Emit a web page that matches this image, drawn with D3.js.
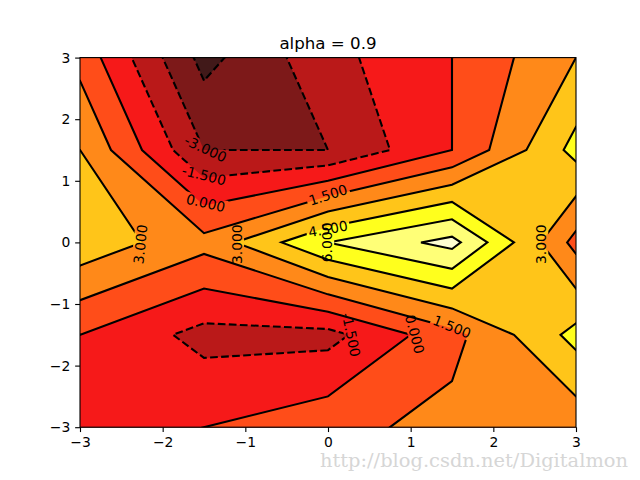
<!DOCTYPE html>
<html>
<head>
<meta charset="utf-8">
<script src="https://cdn.jsdelivr.net/npm/d3@7"></script>
<style>
  body { margin: 0; background: #fff; }
  svg { display: block; }
</style>
</head>
<body>
<div id="chart"></div>
<script>
// Sample grid (rows run top to bottom, i.e. y = 3 first)
const xGrid = [-3, -1.5, 0, 1.5, 3];
const yGrid = [3, 1.5, 0, -1.5, -3];
const zRows = [
    [ 1, -5, -2, 0, 3],
    [ 3, -3, -3, 0, 5],
    [ 4,  2,  6, 8, 1],
    [ 0, -2, -2, 1, 5],
    [-1,  0,  1, 2, 2]
];
const fillLevels = [-6, -4.5, -3, -1.5, 0, 1.5, 3, 4.5, 6, 7.5, 9];
const lineLevels = [-4.5, -3, -1.5, 0, 1.5, 3, 4.5, 6, 7.5];
const xTicks = [-3, -2, -1, 0, 1, 2, 3];
const yTicks = [-3, -2, -1, 0, 1, 2, 3];
const titleText = "alpha = 0.9";
const fillAlpha = 0.9;

// Where clabel put its inline labels (data coords, svg rotation)
const labelSpots = [
    { level: -3,   x: -1.48, y: 1.52,  rot: 25 },
    { level: -1.5, x: -1.50, y: 1.09,  rot: 14 },
    { level: 0,    x: -1.48, y: 0.64,  rot: 13 },
    { level: 1.5,  x: 0.00,  y: 0.77,  rot: -18 },
    { level: 4.5,  x: 0.00,  y: 0.22,  rot: -10 },
    { level: 6,    x: -0.01, y: 0.00,  rot: -90 },
    { level: 3,    x: -2.27, y: -0.03, rot: -84 },
    { level: 3,    x: -1.10, y: -0.03, rot: -90 },
    { level: 3,    x: 2.58,  y: -0.03, rot: -90 },
    { level: -1.5, x: 0.28,  y: -1.50, rot: 78 },
    { level: 0,    x: 1.05,  y: -1.49, rot: 75 },
    { level: 1.5,  x: 1.50,  y: -1.37, rot: 22 }
];

const W = 640, H = 480;
const px = v => v * 100 / 72;   // points -> pixels at dpi 100
const FONT = "'DejaVu Sans', sans-serif";

const x = d3.scaleLinear().domain([-3, 3]).range([80, 576]);
const y = d3.scaleLinear().domain([-3, 3]).range([427.2, 57.6]);

// matplotlib "hot" colormap, composited over white with the fill alpha
function hot(t) {
    const r = t < 0.365079 ? 0.0416 + (1 - 0.0416) * t / 0.365079 : 1;
    const g = t < 0.365079 ? 0 : (t < 0.746032 ? (t - 0.365079) / (0.746032 - 0.365079) : 1);
    const b = t < 0.746032 ? 0 : (t - 0.746032) / (1 - 0.746032);
    const mix = c => Math.round((c * fillAlpha + (1 - fillAlpha)) * 255);
    return `rgb(${mix(r)},${mix(g)},${mix(b)})`;
}
const norm = d3.scaleLinear().domain(d3.extent(fillLevels)).range([0, 1]);
const bandColor = i => hot(norm((fillLevels[i] + fillLevels[i + 1]) / 2));

const svg = d3.select("#chart").append("svg")
    .attr("width", W).attr("height", H)
    .attr("viewBox", `0 0 ${W} ${H}`)
    .style("background", "#fff");

const defs = svg.append("defs");
defs.append("clipPath").attr("id", "plot-clip")
    .append("rect")
    .attr("x", x(-3)).attr("y", y(3))
    .attr("width", x(3) - x(-3)).attr("height", y(-3) - y(3));

// d3.contours grid coords: sample i sits at i + 0.5
const nx = xGrid.length, ny = yGrid.length;
const flat = zRows.flat();
const gx = d3.scaleLinear().domain([0.5, nx - 0.5]).range([xGrid[0], xGrid[nx - 1]]);
const gy = d3.scaleLinear().domain([0.5, ny - 0.5]).range([yGrid[0], yGrid[ny - 1]]);
const proj = d3.geoTransform({
    point(a, b) { this.stream.point(x(gx(a)), y(gy(b))); }
});
const path = d3.geoPath(proj);

// matplotlib joins the high corners of a saddle cell when the cell mean is
// above the level; d3 always splits the inside corners, so flip the field then.
function joinHigh(level) {
    for (let j = 0; j < ny - 1; j++) {
        for (let i = 0; i < nx - 1; i++) {
            const a = zRows[j][i], b = zRows[j][i + 1], c = zRows[j + 1][i + 1], d = zRows[j + 1][i];
            const sa = a > level, sb = b > level, sc = c > level, sd = d > level;
            if (sa === sc && sb === sd && sa !== sb && (a + b + c + d) / 4 > level) return true;
        }
    }
    return false;
}

function levelShape(level) {
    const flip = joinHigh(level);
    const geom = flip
        ? d3.contours().size([nx, ny]).thresholds([-level])(flat.map(v => -v))[0]
        : d3.contours().size([nx, ny]).thresholds([level + 1e-9])(flat)[0];
    const line = path(geom) || "";
    // region above the level
    const area = flip ? `M0,0H${W}V${H}H0Z` + line : line;
    return { line, area };
}

const plot = svg.append("g").attr("clip-path", "url(#plot-clip)");

// Filled bands
plot.append("rect")
    .attr("x", 0).attr("y", 0).attr("width", W).attr("height", H)
    .attr("fill", bandColor(0));

fillLevels.slice(1, -1).forEach((lev, k) => {
    const shp = levelShape(lev);
    if (!shp.area) return;
    plot.append("path")
        .attr("d", shp.area)
        .attr("fill", bandColor(k + 1))
        .attr("fill-rule", "evenodd");
});

// Labels first, so we can measure them for the inline gaps
const labelG = svg.append("g")
    .attr("font-family", FONT)
    .attr("font-size", px(10))
    .attr("fill", "#000");

const labelNodes = labelG.selectAll("text")
    .data(labelSpots)
    .join("text")
    .attr("transform", d => `translate(${x(d.x)},${y(d.y)}) rotate(${d.rot})`)
    .attr("text-anchor", "middle")
    .attr("dominant-baseline", "central")
    .text(d => d.level.toFixed(3));

labelNodes.each(function(d) { d.len = this.getComputedTextLength(); });

// Contour lines, broken where the labels sit
const lineG = plot.append("g");
lineLevels.forEach((lev, k) => {
    const shp = levelShape(lev);
    if (!shp.line) return;
    const mask = defs.append("mask")
        .attr("id", `gap-${k}`)
        .attr("maskUnits", "userSpaceOnUse")
        .attr("x", 0).attr("y", 0).attr("width", W).attr("height", H);
    mask.append("rect").attr("width", W).attr("height", H).attr("fill", "#fff");
    labelSpots.filter(d => d.level === lev).forEach(d => {
        mask.append("rect")
            .attr("x", -d.len / 2 - 2).attr("y", -7)
            .attr("width", d.len + 4).attr("height", 14)
            .attr("transform", `translate(${x(d.x)},${y(d.y)}) rotate(${d.rot})`)
            .attr("fill", "#000");
    });
    lineG.append("path")
        .attr("d", shp.line)
        .attr("fill", "none")
        .attr("stroke", "#000")
        .attr("stroke-width", px(1.5))
        .attr("stroke-dasharray", lev < 0 ? `${px(5.55)},${px(2.4)}` : null)
        .attr("mask", `url(#gap-${k})`);
});

labelG.raise();

// Axes
const fmt = d => d < 0 ? "\u2212" + Math.abs(d) : String(d);
const xAxis = svg.append("g")
    .attr("transform", `translate(0,${y(-3)})`)
    .call(d3.axisBottom(x).tickValues(xTicks).tickFormat(fmt)
        .tickSize(px(3.5)).tickPadding(px(3.5)).tickSizeOuter(0));
const yAxis = svg.append("g")
    .attr("transform", `translate(${x(-3)},0)`)
    .call(d3.axisLeft(y).tickValues(yTicks).tickFormat(fmt)
        .tickSize(px(3.5)).tickPadding(px(3.5)).tickSizeOuter(0));
[xAxis, yAxis].forEach(ax => {
    ax.select(".domain").remove();
    ax.selectAll("line").attr("stroke", "#000").attr("stroke-width", px(0.8));
    ax.selectAll("text").attr("font-family", FONT).attr("font-size", px(10)).attr("fill", "#000");
});

svg.append("rect")
    .attr("x", x(-3)).attr("y", y(3))
    .attr("width", x(3) - x(-3)).attr("height", y(-3) - y(3))
    .attr("fill", "none")
    .attr("stroke", "#000")
    .attr("stroke-width", px(0.8));

svg.append("text")
    .attr("x", (x(-3) + x(3)) / 2)
    .attr("y", y(3) - px(6))
    .attr("text-anchor", "middle")
    .attr("font-family", FONT)
    .attr("font-size", px(12))
    .attr("fill", "#000")
    .text(titleText);

// Blog watermark baked into the reference image
svg.append("text")
    .attr("x", 320).attr("y", 467)
    .attr("font-family", "'DejaVu Serif', serif")
    .attr("font-size", 18)
    .attr("fill", "#d6d6d6")
    .attr("textLength", 308)
    .attr("lengthAdjust", "spacingAndGlyphs")
    .text("http://blog.csdn.net/Digitalmon");
</script>
</body>
</html>
